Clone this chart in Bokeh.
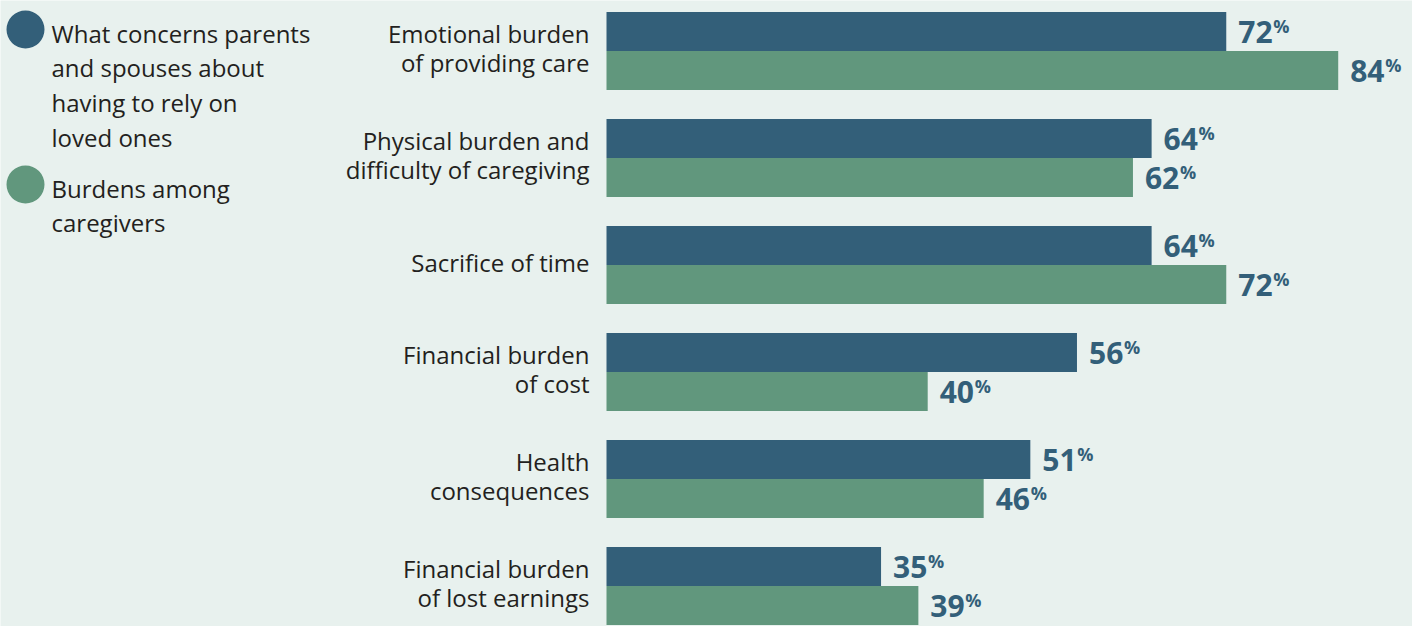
from bokeh.plotting import figure
from bokeh.models import Range1d, ColumnDataSource
from bokeh.core.properties import value
from bokeh.embed import file_html
from bokeh.resources import INLINE

categories = [
    "Emotional burden\nof providing care",
    "Physical burden and\ndifficulty of caregiving",
    "Sacrifice of time",
    "Financial burden\nof cost",
    "Health\nconsequences",
    "Financial burden\nof lost earnings",
]
parents = [72, 64, 64, 56, 51, 35]
caregivers = [84, 62, 72, 40, 46, 39]
series_names = [
    "What concerns parents\nand spouses about\nhaving to rely on\nloved ones",
    "Burdens among\ncaregivers",
]

BLUE = "#335f79"
GREEN = "#61977d"
BG = "#e8f1ee"
TEXT = "#231f20"
FONT = "Open Sans"

W, H = 1412, 626
ZERO_PX = 554.0      # screen x of value 0
PX_PER = 9.33        # pixels per percentage point
TOP_PX = 50.5        # screen y of first group centre
PITCH = 107.0        # pixels between groups

def px_x(px):
    return (px - ZERO_PX) / PX_PER

def px_y(py):
    return (py - TOP_PX) / PITCH

p = figure(width=W, height=H, output_backend="svg", toolbar_location=None,
           x_range=Range1d(px_x(0), px_x(W)), y_range=Range1d(px_y(H), px_y(0)),
           x_axis_type=None, y_axis_type=None, min_border=0,
           background_fill_color=BG, border_fill_color=BG, outline_line_color=None)
p.xgrid.visible = False
p.ygrid.visible = False

base = px_x(606)
bar_h = 39.0 / PITCH
idx = list(range(len(categories)))

src = ColumnDataSource(dict(
    yb=[i - bar_h / 2 for i in idx],
    yg=[i + bar_h / 2 for i in idx],
    parents=parents, caregivers=caregivers,
    pl=[str(v) for v in parents], cl=[str(v) for v in caregivers],
    pct=["%"] * len(idx),
    cat=categories, yc=idx,
))

p.hbar(y="yb", height=bar_h, left=base, right="parents", source=src,
       fill_color=BLUE, line_color=None)
p.hbar(y="yg", height=bar_h, left=base, right="caregivers", source=src,
       fill_color=GREEN, line_color=None)

# value labels
for col, ycol, lab in (("parents", "yb", "pl"), ("caregivers", "yg", "cl")):
    p.text(x=col, y=ycol, text=lab, source=src, x_offset=12, y_offset=0,
           text_font=value(FONT), text_font_style="bold", text_font_size="30px",
           text_color=BLUE, text_baseline="middle", text_align="left")
    p.text(x=col, y=ycol, text="pct", source=src, x_offset=47, y_offset=-6,
           text_font=value(FONT), text_font_style="bold", text_font_size="18px",
           text_color=BLUE, text_baseline="middle", text_align="left")

# category labels
p.text(x=px_x(589), y="yc", text="cat", source=src, y_offset=-3,
       text_font=value(FONT), text_font_size="24px", text_color=TEXT,
       text_align="right", text_baseline="middle", text_line_height=0.9)

# legend
p.scatter(x=[px_x(25)] * 2, y=[px_y(29), px_y(184)], size=38, marker="circle",
          fill_color=[BLUE, GREEN], line_color=None)
p.text(x=[px_x(51)] * 2, y=[px_y(16), px_y(171)], text=series_names,
       text_font=value(FONT), text_font_size="24px", text_color=TEXT,
       text_align="left", text_baseline="top", text_line_height=1.06)

open("out.html", "w").write(file_html(p, INLINE))
